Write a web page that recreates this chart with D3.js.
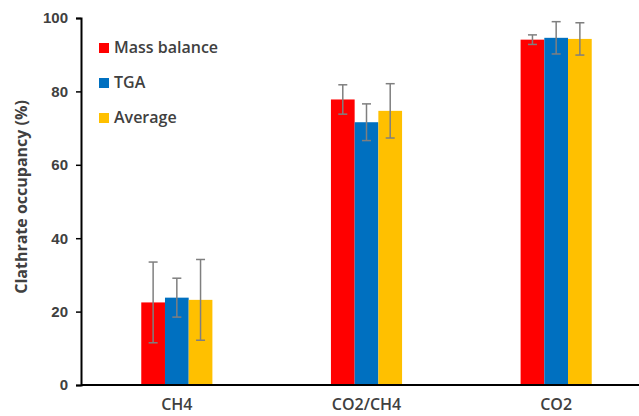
<!DOCTYPE html>
<html>
<head>
<meta charset="utf-8">
<script src="https://cdn.jsdelivr.net/npm/d3@7"></script>
<style>
    body { margin: 0; background: #fff; }
    svg { display: block; font-family: "Open Sans", sans-serif; }
</style>
</head>
<body>
<div id="chart"></div>
<script>
// Chart Data
const categories = ["CH4", "CO2/CH4", "CO2"];
const seriesNames = ["Mass balance", "TGA", "Average"];
const seriesColors = ["#ff0000", "#0070c0", "#ffc000"];
const massBalance = [22.5, 77.8, 94.1];
const tga = [23.8, 71.6, 94.6];
const average = [23.2, 74.7, 94.3];
const massBalanceErr = [11.0, 4.0, 1.3];
const tgaErr = [5.3, 5.0, 4.4];
const averageErr = [11.0, 7.4, 4.4];
const yTicks = [0, 20, 40, 60, 80, 100];

const seriesValues = [massBalance, tga, average];
const seriesErrors = [massBalanceErr, tgaErr, averageErr];

// Dimensions
const width = 639;
const height = 416;
const plot = { left: 81, top: 18, bottom: 385, right: 651 };

const svg = d3.select("#chart")
    .append("svg")
    .attr("width", width)
    .attr("height", height);

// Scales
const x0 = d3.scaleBand()
    .domain(categories)
    .range([plot.left + 1, plot.right])
    .paddingInner(0.625)
    .paddingOuter(0.3125);

const x1 = d3.scaleBand()
    .domain(seriesNames)
    .range([0, x0.bandwidth()]);

const y = d3.scaleLinear()
    .domain([0, 100])
    .range([plot.bottom, plot.top]);

// Flatten bars
const bars = [];
categories.forEach((c, i) => {
    seriesNames.forEach((s, j) => {
        bars.push({ cat: c, series: s, color: seriesColors[j], value: seriesValues[j][i], err: seriesErrors[j][i] });
    });
});

// Bars
svg.append("g")
    .selectAll("rect")
    .data(bars)
    .enter()
    .append("rect")
    .attr("x", d => x0(d.cat) + x1(d.series))
    .attr("y", d => y(d.value))
    .attr("width", x1.bandwidth())
    .attr("height", d => y(0) - y(d.value))
    .attr("fill", d => d.color);

// Error bars
const errG = svg.append("g")
    .attr("stroke", "#7f7f7f")
    .attr("stroke-width", 1.5);

const cap = 4.5;
bars.forEach(d => {
    const cx = x0(d.cat) + x1(d.series) + x1.bandwidth() / 2;
    const yHi = y(d.value + d.err);
    const yLo = y(d.value - d.err);
    errG.append("line").attr("x1", cx).attr("x2", cx).attr("y1", yHi).attr("y2", yLo);
    errG.append("line").attr("x1", cx - cap).attr("x2", cx + cap).attr("y1", yHi).attr("y2", yHi);
    errG.append("line").attr("x1", cx - cap).attr("x2", cx + cap).attr("y1", yLo).attr("y2", yLo);
});

// Y axis
const yAxis = svg.append("g")
    .attr("transform", `translate(${plot.left},0)`)
    .call(d3.axisLeft(y).tickValues(yTicks).tickSize(5).tickPadding(8));

yAxis.select(".domain").attr("stroke", "#000").attr("stroke-width", 2);
yAxis.selectAll(".tick line").attr("stroke", "#000").attr("stroke-width", 1.5);
yAxis.selectAll(".tick text")
    .attr("fill", "#404040")
    .style("font-size", "15px")
    .style("font-weight", "600");

// X axis line
svg.append("line")
    .attr("x1", plot.left)
    .attr("x2", width)
    .attr("y1", y(0))
    .attr("y2", y(0))
    .attr("stroke", "#000")
    .attr("stroke-width", 2);

// Category labels
svg.append("g")
    .selectAll("text")
    .data(categories)
    .enter()
    .append("text")
    .attr("x", d => x0(d) + x0.bandwidth() / 2)
    .attr("y", 410)
    .attr("text-anchor", "middle")
    .attr("fill", "#404040")
    .style("font-size", "16px")
    .style("font-weight", "600")
    .text(d => d);

// Y axis title
svg.append("text")
    .attr("transform", `translate(27,197) rotate(-90)`)
    .attr("text-anchor", "middle")
    .attr("fill", "#404040")
    .style("font-size", "16px")
    .style("font-weight", "700")
    .text("Clathrate occupancy (%)");

// Legend
const legend = svg.append("g")
    .selectAll("g")
    .data(seriesNames)
    .enter()
    .append("g")
    .attr("transform", (d, i) => `translate(99,${43 + i * 35})`);

legend.append("rect")
    .attr("width", 10)
    .attr("height", 10)
    .attr("fill", (d, i) => seriesColors[i]);

legend.append("text")
    .attr("x", 15)
    .attr("y", 10)
    .attr("fill", "#404040")
    .style("font-size", "16px")
    .style("font-weight", "600")
    .text(d => d);
</script>
</body>
</html>
